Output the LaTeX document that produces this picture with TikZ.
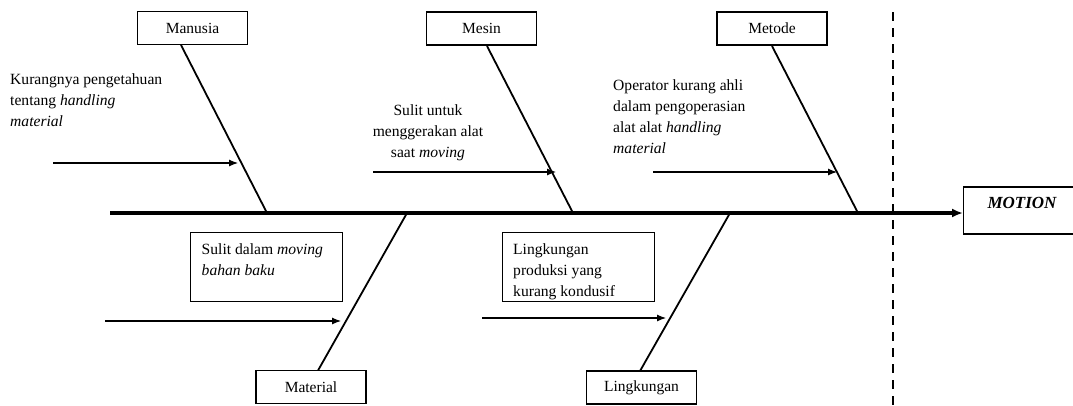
\documentclass[tikz,border=0pt]{standalone}
\usepackage{fontspec}
\setmainfont{Liberation Serif}
\usetikzlibrary{arrows.meta}
\begin{document}
\begin{tikzpicture}[x=1pt,y=-1pt,
  catbox/.style={draw,line width=1.1pt,minimum width=110pt,minimum height=33pt,inner sep=0pt,font=\fontsize{15.5}{18}\selectfont},
  causebox/.style={draw,line width=1.1pt,minimum width=152pt,minimum height=69pt,inner sep=0pt},
  ctext/.style={font=\fontsize{15.6}{21.3}\selectfont,inner sep=0pt,align=left,anchor=north west},
  bone/.style={line width=1.8pt},
  spine/.style={line width=3.2pt,-{Latex[length=11pt,width=9pt]}},
  cause/.style={line width=1.1pt,-{Latex[length=9pt,width=7pt]}}]
\useasboundingbox (0,0) rectangle (1073,405);
% category boxes
\node[catbox] (manusia) at (192.5,28) {Manusia};
\node[catbox] (mesin) at (481.5,28.5) {Mesin};
\node[catbox] (metode) at (772,28.5) {Metode};
\node[catbox] (material) at (311,387) {Material};
\node[catbox] (lingk) at (641.5,387.5) {Lingkungan};
\node[draw,line width=1.1pt,minimum width=130pt,minimum height=47pt,inner sep=0pt,anchor=west] (motion) at (963,210.5) {};
\node[font=\fontsize{17}{20}\selectfont\bfseries\itshape,inner sep=0pt] (motiontext) at (1022,202.5) {MOTION};
% spine
\coordinate (tail) at (110,213);
\coordinate (jman) at (267,213);
\coordinate (jmes) at (573,213);
\coordinate (jmet) at (858,213);
\coordinate (jmat) at (407,213);
\coordinate (jlin) at (730,213);
\draw[spine] (tail) -- (tail -| motion.west);
% bones
\draw[bone] (181,45) -- (jman);
\draw[bone] (487,46) -- (jmes);
\draw[bone] (772,46) -- (jmet);
\draw[bone] (jmat) -- (318,370.5);
\draw[bone] (jlin) -- (640,371);
% dashed line
\coordinate (dtop) at (892.5,12);
\coordinate (dbot) at (892.5,405);
\draw[line width=2pt,dash pattern=on 9pt off 7pt] (dtop) -- (dbot);
% cause arrows
\coordinate (a1) at (53,163);   \coordinate (b1) at (238,163);
\coordinate (a2) at (373,172);  \coordinate (b2) at (556,172);
\coordinate (a3) at (653,172);  \coordinate (b3) at (837,172);
\coordinate (a4) at (105,321);  \coordinate (b4) at (341,321);
\coordinate (a5) at (482,318);  \coordinate (b5) at (666,318);
\draw[cause] (a1) -- (b1);
\draw[cause] (a2) -- (b2);
\draw[cause] (a3) -- (b3);
\draw[cause] (a4) -- (b4);
\draw[cause] (a5) -- (b5);
% texts
\node[ctext] (t1) at (10,73) {Kurangnya pengetahuan\\tentang \textit{handling}\\\textit{material}};
\node[ctext,align=center,anchor=north] (t2) at (428,104) {Sulit untuk\\menggerakan alat\\saat \textit{moving}};
\node[ctext] (t3) at (613,79) {Operator kurang ahli\\dalam pengoperasian\\alat alat \textit{handling}\\\textit{material}};
\node[causebox,anchor=north west] (c4) at (190,232) {};
\node[ctext] (t4) at (201.5,243) {Sulit dalam \textit{moving}\\\textit{bahan baku}};
\node[causebox,anchor=north west] (c5) at (502,232) {};
\node[ctext] (t5) at (513,243) {Lingkungan\\produksi yang\\kurang kondusif};
\end{tikzpicture}
\end{document}
